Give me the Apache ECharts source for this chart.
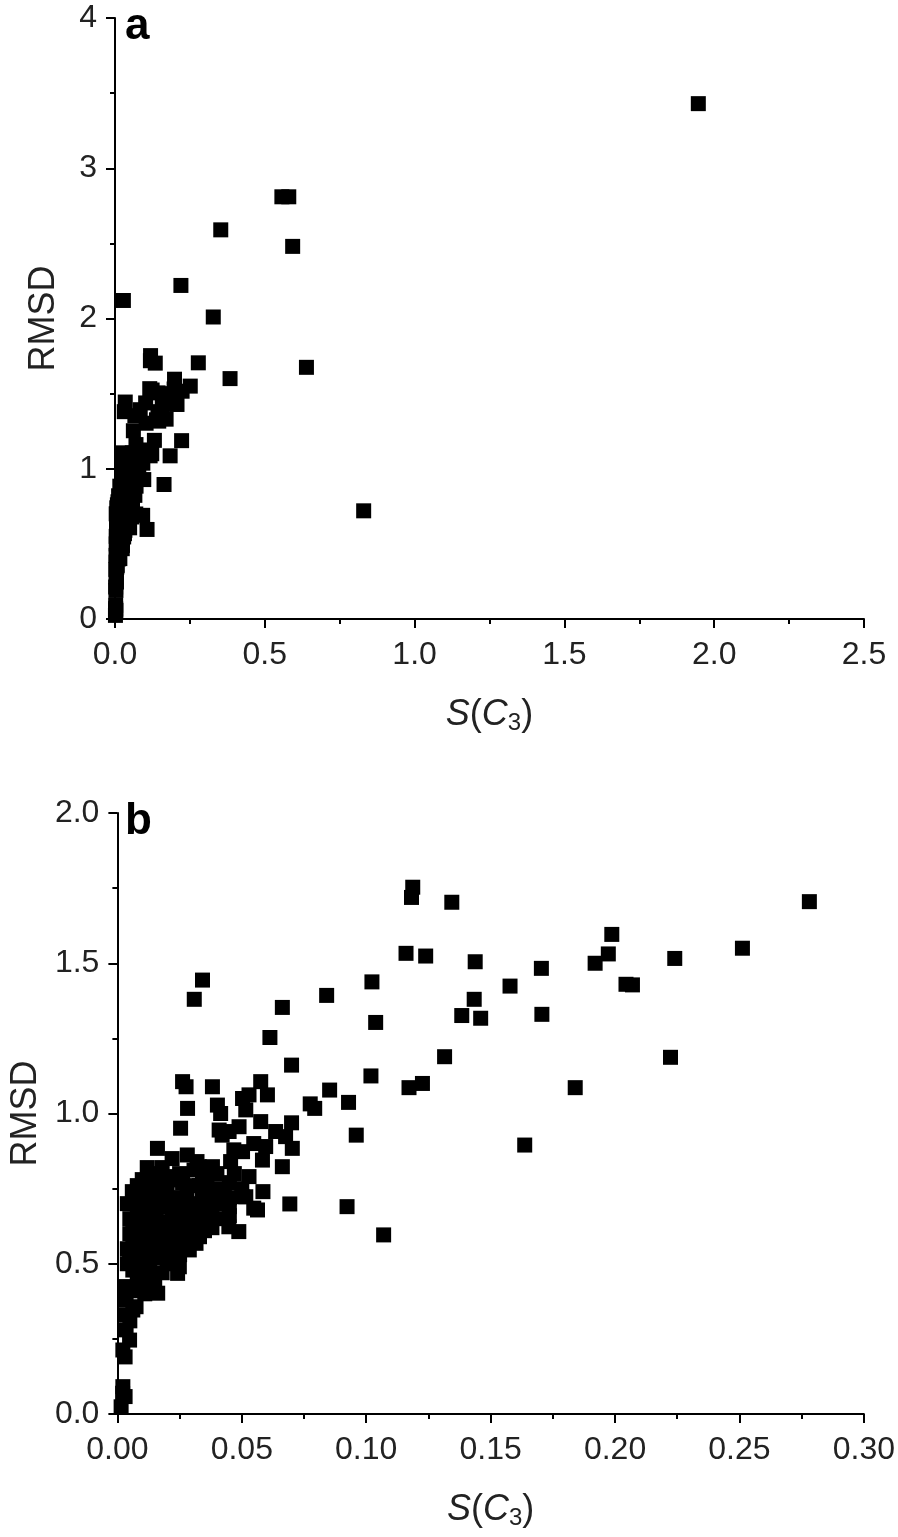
<!DOCTYPE html>
<html>
<head>
<meta charset="utf-8">
<style>
  html, body { margin: 0; padding: 0; background: #fff; }
  #main { width: 898px; height: 1537px; }
</style>
<script src="https://cdn.jsdelivr.net/npm/echarts@6/dist/echarts.min.js"></script>
</head>
<body>
<div id="main"></div>
<script>
// points shared by both panels (x = S(C3), y = RMSD)
var pointsB = [
  [0.1187,1.753],[0.1182,1.719],[0.1344,1.703],[0.2781,1.705],[0.1987,1.596],[0.1973,1.531],
  [0.192,1.50],[0.2512,1.550],[0.224,1.516],[0.2044,1.43],[0.207,1.428],[0.116,1.533],
  [0.1239,1.524],[0.1438,1.505],[0.1704,1.483],[0.1578,1.424],[0.1023,1.438],[0.0841,1.393],
  [0.1434,1.38],[0.1384,1.326],[0.146,1.317],[0.1706,1.330],[0.1038,1.303],[0.1315,1.189],
  [0.2223,1.187],[0.1019,1.125],[0.1226,1.10],[0.1172,1.086],[0.184,1.086],[0.0853,1.078],
  [0.0929,1.037],[0.0775,1.032],[0.0793,1.017],[0.096,0.928],[0.1637,0.895],[0.0923,0.69],
  [0.107,0.596],
  [0.0342,1.444],[0.0309,1.38],[0.0663,1.353],[0.0613,1.253],[0.070,1.161],[0.0576,1.106],
  [0.0603,1.062],[0.0529,1.062],[0.0516,1.012],[0.0576,0.973],[0.070,0.969],[0.0636,0.94],
  [0.0676,0.923],[0.0703,0.884],[0.0596,0.89],[0.0583,0.845],[0.0663,0.823],[0.0529,0.79],
  [0.0585,0.74],[0.0516,0.723],[0.0563,0.679],[0.0693,0.699],[0.0503,0.873],
  [0.0262,1.106],[0.0276,1.089],[0.0382,1.089],[0.0402,1.028],[0.0415,1.0],[0.0282,1.017],
  [0.0503,1.05],[0.0254,0.951],[0.0409,0.945],[0.0449,0.94],[0.0489,0.956],[0.0421,0.928],
  [0.0548,0.90],[0.0161,0.884],[0.0281,0.862],[0.0468,0.879],[0.0455,0.84],[0.0382,0.823],
  [0.0329,0.823],[0.0342,0.79],[0.0129,0.773],[0.0115,0.745],[0.0209,0.79],[0.0262,0.768],
  [0.0342,0.745],[0.0396,0.723],[0.0423,0.701],[0.0501,0.723],[0.0448,0.623],[0.0488,0.607],
  [0.0548,0.685],[0.0374,0.679],[0.0401,0.712],[0.0348,0.734],[0.0308,0.812],[0.0214,0.779],
  [0.0081,0.723],
  [0.0062,0.623],[0.0075,0.635],[0.0102,0.668],[0.0156,0.646],[0.0209,0.69],[0.0249,0.657],
  [0.0276,0.612],[0.0316,0.568],[0.0342,0.657],[0.0062,0.568],[0.0049,0.523],[0.0129,0.59],
  [0.0142,0.557],[0.0182,0.546],[0.0222,0.523],[0.0249,0.49],[0.0289,0.546],[0.0242,0.468],
  [0.0162,0.402],[0.0102,0.446],[0.0035,0.424],[0.0062,0.479],[0.0094,0.49],[0.0035,0.379],
  [0.0062,0.346],[0.0075,0.357],[0.0035,0.28],[0.0049,0.246],[0.0022,0.213],[0.0031,0.19],
  [0.0022,0.091],[0.0031,0.058],[0.0015,0.024],[0.0021,0.069],
  [0.015,0.72],[0.02,0.74],[0.025,0.72],[0.03,0.70],[0.035,0.70],[0.015,0.68],[0.02,0.64],
  [0.025,0.62],[0.03,0.63],[0.035,0.61],[0.04,0.65],[0.01,0.62],[0.015,0.60],[0.02,0.58],
  [0.025,0.57],[0.01,0.55],[0.015,0.52],[0.02,0.50],[0.01,0.51],[0.045,0.66],[0.04,0.75],
  [0.045,0.77],[0.04,0.80],[0.025,0.80],[0.018,0.82],[0.012,0.70],[0.008,0.66],[0.005,0.60],
  [0.03,0.76],[0.035,0.67],
  [0.045,0.72],[0.05,0.75],[0.038,0.62],[0.033,0.59],[0.028,0.59],[0.022,0.60],[0.018,0.62],
  [0.012,0.64],[0.005,0.65],[0.004,0.70],[0.006,0.74],[0.004,0.55],[0.004,0.50],[0.008,0.52],
  [0.013,0.48],[0.018,0.47],[0.02,0.55],[0.025,0.68],[0.03,0.66],[0.038,0.69],[0.043,0.74],
  [0.047,0.80],[0.036,0.77],[0.032,0.84],[0.022,0.85],[0.017,0.76],[0.01,0.78],[0.008,0.45],
  [0.006,0.41],[0.011,0.40],[0.005,0.31],[0.003,0.33],
  [0.012,0.82],[0.008,0.76],[0.015,0.80],[0.02,0.70],[0.028,0.74],[0.033,0.76],[0.04,0.70],
  [0.045,0.69],[0.025,0.53],[0.03,0.60],[0.017,0.56],[0.012,0.58],[0.007,0.70],[0.022,0.66],
  [0.028,0.64],[0.036,0.64],[0.015,0.44],[0.009,0.58]
];

// points only visible in panel a (outside panel b's range)
var extraA = [
  [1.947,3.43],[0.557,2.81],[0.58,2.81],[0.353,2.59],[0.593,2.48],[0.328,2.01],
  [0.639,1.675],[0.384,1.60],[0.83,0.72],[0.028,2.12],[0.22,2.22]
];

var ticksAx = [0, 2.5, 0.5];
var ticksAy = [0, 4, 1];
var ticksBx = [0, 0.3, 0.05];
var ticksBy = [0, 2, 0.5];

var font = "'Liberation Sans', Arial, sans-serif";

function axis(gridIndex, t, decimals, name, isX) {
  return {
    type: 'value',
    gridIndex: gridIndex,
    min: t[0], max: t[1], interval: t[2],
    name: name,
    nameLocation: 'middle',
    nameGap: isX ? 76 : 53,
    nameTextStyle: {
      fontFamily: font, fontSize: 36, color: '#222',
      rich: {
        i: { fontFamily: font, fontSize: 36, fontStyle: 'italic', color: '#222' },
        n: { fontFamily: font, fontSize: 36, color: '#222' },
        sub: { fontFamily: font, fontSize: 24, color: '#222', verticalAlign: 'bottom', padding: [16, 0, 0, 0] }
      }
    },
    axisLine: { show: true, onZero: false, lineStyle: { color: '#000', width: 2 } },
    axisTick: { show: true, inside: false, length: 9, lineStyle: { color: '#000', width: 2 } },
    minorTick: { show: true, splitNumber: 2, length: 5, lineStyle: { color: '#000', width: 2 } },
    splitLine: { show: false },
    axisLabel: {
      fontFamily: font, fontSize: 32, color: '#222', margin: isX ? 20 : 18,
      showMinLabel: true, showMaxLabel: true,
      formatter: function (v) { return v.toFixed(decimals); }
    }
  };
}

var xName = '{i|S}{n|(}{i|C}{sub|3}{n|)}';

var chart = echarts.init(document.getElementById('main'), null, { renderer: 'canvas' });
chart.setOption({
  animation: false,
  backgroundColor: '#fff',
  title: [
    { text: 'a', left: 120, top: 0, textStyle: { fontFamily: font, fontSize: 44, fontWeight: 'bold', color: '#000' } },
    { text: 'b', left: 120, top: 795, textStyle: { fontFamily: font, fontSize: 44, fontWeight: 'bold', color: '#000' } }
  ],
  grid: [
    { left: 115, top: 18, width: 749, height: 601 },
    { left: 115, top: 813, width: 749, height: 601 }
  ],
  xAxis: [
    axis(0, ticksAx, 1, xName, true),
    axis(1, ticksBx, 2, xName, true)
  ],
  yAxis: [
    axis(0, ticksAy, 0, 'RMSD', false),
    axis(1, ticksBy, 1, 'RMSD', false)
  ],
  series: [
    {
      type: 'scatter', xAxisIndex: 0, yAxisIndex: 0,
      symbol: 'rect', symbolSize: 15,
      itemStyle: { color: '#000', opacity: 1, borderWidth: 0 },
      data: pointsB.concat(extraA)
    },
    {
      type: 'scatter', xAxisIndex: 1, yAxisIndex: 1,
      symbol: 'rect', symbolSize: 15,
      itemStyle: { color: '#000', opacity: 1, borderWidth: 0 },
      data: pointsB
    }
  ]
});
</script>
</body>
</html>
